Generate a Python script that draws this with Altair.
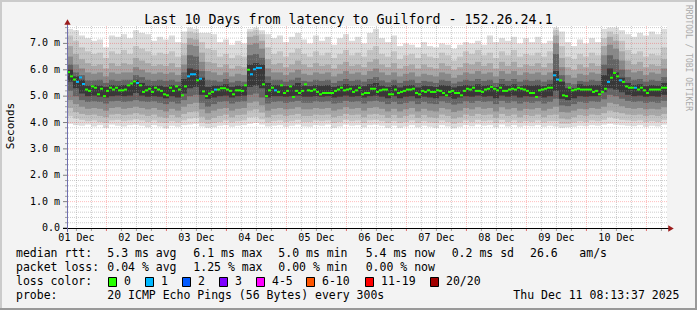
import altair as alt
import pandas as pd

FONT = "DejaVu Sans Mono"

# ---------------- data ----------------
TITLE = "Last 10 Days from latency to Guilford - 152.26.24.1"
START_CLOCK_H = 8 + 13 / 60 + 37 / 3600      # graph starts 01 Dec 08:13:37
SPAN_H = 240.0                                # 10 days
DAY_LABELS = ["01 Dec", "02 Dec", "03 Dec", "04 Dec", "05 Dec",
              "06 Dec", "07 Dec", "08 Dec", "09 Dec", "10 Dec"]
Y_TICKS = [0, 1, 2, 3, 4, 5, 6, 7]
Y_LABELS = ["0.0\u00a0\u00a0", "1.0 m", "2.0 m", "3.0 m", "4.0 m", "5.0 m", "6.0 m", "7.0 m"]

# median rtt (ms), one value per 72-minute step
MEDIAN = [
    5.91, 5.75, 5.63, 5.54, 5.71, 5.46, 5.25, 5.20, 5.37, 5.32,
    5.07, 5.28, 5.00, 5.20, 5.32, 5.25, 5.32, 5.22, 5.22, 5.25,
    5.41, 5.48, 5.56, 5.50, 5.41, 5.16, 5.22, 5.28, 5.16, 5.32,
    5.25, 5.20, 5.07, 5.03, 5.32, 5.20, 5.37, 5.25, 5.03, 5.37,
    5.75, 5.83, 5.83, 5.60, 5.66, 5.18, 5.00, 5.10, 5.16, 5.25,
    5.25, 5.30, 5.30, 5.25, 5.20, 5.07, 5.22, 5.22, 5.20, 5.41,
    6.00, 5.83, 6.02, 6.07, 6.07, 5.45, 5.00, 5.22, 5.32, 5.22,
    5.16, 5.41, 5.12, 5.20, 5.37, 4.97, 5.20, 5.12, 5.20, 5.45,
    5.22, 5.20, 5.25, 5.16, 5.07, 5.12, 5.12, 5.12, 5.12, 5.20,
    5.25, 5.32, 5.22, 5.25, 5.28, 5.16, 5.22, 5.32, 5.07, 5.12,
    5.12, 5.28, 5.28, 5.16, 5.22, 5.25, 5.25, 5.07, 5.07, 5.25,
    5.12, 5.16, 5.20, 5.25, 5.25, 5.28, 5.12, 5.07, 5.20, 5.16,
    5.22, 5.16, 5.16, 5.22, 5.20, 5.12, 5.03, 5.16, 5.20, 5.12,
    5.12, 5.03, 5.20, 5.28, 5.25, 5.32, 5.20, 5.20, 5.16, 5.25,
    5.28, 5.35, 5.28, 5.22, 5.32, 5.20, 5.20, 5.25, 5.28, 5.25,
    5.32, 5.28, 5.25, 5.20, 5.12, 5.12, 4.97, 5.22, 5.25, 5.28,
    5.32, 5.32, 5.79, 5.63, 5.60, 5.03, 5.00, 5.32, 5.22, 5.25,
    5.28, 5.25, 5.25, 5.25, 5.25, 5.16, 5.20, 5.07, 5.16, 5.28,
    5.54, 5.70, 5.88, 5.75, 5.60, 5.54, 5.37, 5.32, 5.32, 5.32,
    5.25, 5.32, 5.22, 5.12, 5.25, 5.25, 5.25, 5.25, 5.32, 5.32,
]
# lost pings per step (0 or 1 of 20)
LOSS = [
    0, 0, 0, 1, 1, 1, 0, 0, 0, 0, 0, 0, 0, 0, 0, 0, 0, 0, 0, 0,
    0, 0, 0, 1, 0, 0, 0, 0, 0, 0, 0, 0, 0, 0, 0, 0, 0, 0, 0, 0,
    1, 1, 1, 0, 1, 0, 0, 0, 0, 1, 0, 0, 0, 0, 0, 0, 0, 0, 0, 0,
    0, 1, 1, 1, 1, 0, 0, 0, 0, 1, 0, 0, 0, 0, 0, 0, 0, 0, 0, 0,
    0, 0, 0, 0, 0, 0, 0, 0, 0, 0, 0, 0, 0, 0, 0, 0, 0, 0, 0, 0,
    0, 0, 0, 0, 0, 0, 0, 0, 0, 0, 0, 0, 0, 0, 0, 0, 0, 0, 0, 0,
    0, 0, 0, 0, 0, 0, 0, 0, 0, 0, 0, 0, 0, 0, 0, 0, 0, 0, 0, 0,
    0, 0, 0, 0, 0, 0, 0, 0, 0, 0, 0, 0, 0, 0, 0, 0, 0, 0, 0, 0,
    0, 0, 1, 1, 0, 0, 0, 0, 0, 0, 0, 0, 0, 0, 0, 0, 0, 0, 0, 0,
    1, 0, 0, 0, 1, 0, 0, 0, 0, 1, 0, 0, 0, 0, 0, 0, 0, 0, 0, 0,
]

# smoke bands (ms), one value per 144-minute step; band 0 is outermost
SMOKE_T0 = [
    7.55, 7.50, 7.30, 7.20, 7.10, 7.15, 6.85, 7.30, 7.25, 7.35,
    7.20, 7.50, 7.40, 7.35, 7.10, 7.25, 7.15, 7.30, 7.05, 7.45,
    7.60, 7.55, 7.40, 7.40, 7.35, 7.05, 7.15, 6.95, 7.10, 7.00,
    7.55, 7.60, 7.50, 7.35, 7.20, 7.30, 7.05, 7.25, 7.40, 7.15,
    7.00, 7.30, 7.10, 7.25, 6.95, 7.20, 7.35, 7.10, 7.25, 7.00,
    7.40, 7.55, 7.20, 7.05, 7.30, 6.90, 7.00, 6.95, 6.85, 7.05,
    6.90, 6.85, 7.00, 6.95, 6.80, 6.95, 7.05, 7.00, 7.10, 6.95,
    7.30, 7.05, 7.20, 7.10, 7.25, 7.00, 7.20, 7.05, 7.25, 7.00,
    7.10, 7.60, 7.45, 7.05, 6.90, 7.15, 7.00, 7.20, 7.05, 7.55,
    7.60, 7.60, 7.50, 7.35, 7.25, 7.40, 7.30, 7.45, 7.35, 7.55,
]
SMOKE_B0 = [
    3.95, 3.90, 3.88, 3.92, 3.85, 3.90, 3.80, 3.92, 3.88, 3.85,
    3.90, 3.92, 3.88, 3.82, 3.90, 3.85, 3.78, 3.88, 3.84, 3.90,
    3.92, 3.95, 3.85, 3.80, 3.82, 3.88, 3.90, 3.84, 3.88, 3.90,
    3.95, 3.98, 3.92, 3.85, 3.88, 3.90, 3.84, 3.88, 3.92, 3.85,
    3.84, 3.90, 3.88, 3.92, 3.80, 3.85, 3.92, 3.88, 3.90, 3.82,
    3.90, 3.92, 3.88, 3.80, 3.88, 3.80, 3.85, 3.90, 3.82, 3.88,
    3.84, 3.80, 3.90, 3.85, 3.78, 3.84, 3.90, 3.86, 3.92, 3.88,
    3.90, 3.82, 3.92, 3.85, 3.90, 3.84, 3.88, 3.86, 3.90, 3.84,
    3.88, 3.85, 3.80, 3.82, 3.84, 3.88, 3.86, 3.90, 3.88, 3.92,
    3.95, 3.92, 3.90, 3.88, 3.86, 3.90, 3.84, 3.88, 3.85, 3.92,
]
SMOKE_T1 = [
    7.30, 7.10, 6.85, 6.70, 6.60, 6.65, 6.45, 6.70, 6.60, 6.75,
    6.60, 6.90, 6.80, 6.70, 6.55, 6.65, 6.60, 6.70, 6.50, 7.00,
    7.45, 7.40, 7.05, 6.80, 6.75, 6.50, 6.60, 6.45, 6.55, 6.50,
    7.45, 7.50, 7.35, 6.85, 6.60, 6.70, 6.50, 6.65, 6.80, 6.60,
    6.50, 6.70, 6.55, 6.65, 6.45, 6.60, 6.75, 6.55, 6.65, 6.50,
    6.75, 6.90, 6.60, 6.50, 6.70, 6.40, 6.55, 6.60, 6.45, 6.60,
    6.50, 6.45, 6.65, 6.55, 6.35, 6.50, 6.70, 6.60, 6.75, 6.55,
    6.65, 6.45, 6.70, 6.55, 6.75, 6.50, 6.60, 6.55, 6.65, 6.50,
    6.70, 7.50, 6.90, 6.50, 6.40, 6.60, 6.50, 6.65, 6.55, 7.20,
    7.45, 7.35, 7.10, 6.75, 6.60, 6.70, 6.50, 6.60, 6.55, 6.85,
]
SMOKE_B1 = [
    4.25, 4.15, 4.10, 4.05, 4.08, 4.02, 3.98, 4.08, 4.10, 4.05,
    4.08, 4.12, 4.08, 4.02, 4.08, 4.00, 3.98, 4.05, 4.00, 4.08,
    4.15, 4.18, 4.00, 3.95, 3.98, 4.02, 4.08, 4.00, 4.05, 4.08,
    4.20, 4.22, 4.12, 4.00, 4.05, 4.08, 4.02, 4.05, 4.10, 4.02,
    4.02, 4.08, 4.05, 4.08, 3.98, 4.02, 4.10, 4.05, 4.08, 3.98,
    4.08, 4.10, 4.05, 3.98, 4.05, 3.98, 4.02, 4.08, 3.98, 4.05,
    4.00, 3.98, 4.08, 4.02, 3.95, 4.00, 4.08, 4.02, 4.10, 4.05,
    4.08, 3.98, 4.10, 4.02, 4.08, 4.00, 4.05, 4.02, 4.08, 4.00,
    4.05, 4.05, 3.95, 3.95, 4.00, 4.05, 4.02, 4.08, 4.05, 4.10,
    4.20, 4.15, 4.10, 4.08, 4.05, 4.08, 4.02, 4.05, 4.02, 4.10,
]
SMOKE_T2 = [
    6.90, 6.60, 6.40, 6.25, 6.15, 6.20, 6.05, 6.25, 6.15, 6.25,
    6.20, 6.45, 6.35, 6.25, 6.15, 6.20, 6.15, 6.25, 6.10, 6.55,
    7.20, 7.15, 6.65, 6.30, 6.25, 6.10, 6.20, 6.05, 6.15, 6.10,
    7.25, 7.30, 7.10, 6.40, 6.20, 6.25, 6.10, 6.20, 6.35, 6.20,
    6.10, 6.25, 6.15, 6.20, 6.05, 6.20, 6.30, 6.15, 6.20, 6.10,
    6.30, 6.40, 6.20, 6.10, 6.25, 6.05, 6.15, 6.20, 6.05, 6.20,
    6.10, 6.05, 6.25, 6.15, 6.00, 6.10, 6.25, 6.20, 6.30, 6.15,
    6.25, 6.05, 6.30, 6.15, 6.30, 6.10, 6.20, 6.15, 6.25, 6.10,
    6.25, 7.30, 6.45, 6.10, 6.00, 6.20, 6.10, 6.25, 6.15, 6.90,
    7.25, 7.10, 6.70, 6.35, 6.20, 6.30, 6.10, 6.20, 6.15, 6.40,
]
SMOKE_B2 = [
    4.55, 4.40, 4.32, 4.28, 4.30, 4.25, 4.20, 4.30, 4.32, 4.28,
    4.30, 4.35, 4.30, 4.25, 4.30, 4.22, 4.18, 4.28, 4.20, 4.32,
    4.40, 4.42, 4.22, 4.10, 4.18, 4.25, 4.30, 4.20, 4.28, 4.30,
    4.45, 4.50, 4.38, 4.20, 4.28, 4.30, 4.25, 4.28, 4.32, 4.25,
    4.25, 4.30, 4.28, 4.30, 4.20, 4.25, 4.32, 4.28, 4.30, 4.20,
    4.30, 4.32, 4.28, 4.18, 4.28, 4.18, 4.25, 4.30, 4.18, 4.28,
    4.20, 4.18, 4.30, 4.25, 4.15, 4.20, 4.30, 4.25, 4.32, 4.28,
    4.30, 4.18, 4.32, 4.25, 4.30, 4.20, 4.28, 4.25, 4.30, 4.20,
    4.28, 4.30, 4.15, 4.12, 4.20, 4.28, 4.25, 4.30, 4.28, 4.35,
    4.45, 4.40, 4.35, 4.30, 4.28, 4.30, 4.25, 4.28, 4.25, 4.32,
]
SMOKE_T3 = [
    6.50, 6.20, 6.05, 5.90, 5.85, 5.90, 5.75, 5.90, 5.85, 5.90,
    5.90, 6.10, 6.00, 5.90, 5.85, 5.90, 5.85, 5.90, 5.80, 6.20,
    6.95, 6.90, 6.30, 5.95, 5.90, 5.80, 5.90, 5.75, 5.85, 5.80,
    6.95, 7.00, 6.80, 6.05, 5.90, 5.90, 5.80, 5.90, 6.00, 5.85,
    5.80, 5.90, 5.85, 5.90, 5.75, 5.85, 5.95, 5.85, 5.90, 5.80,
    5.95, 6.05, 5.90, 5.80, 5.90, 5.75, 5.85, 5.90, 5.75, 5.85,
    5.80, 5.75, 5.90, 5.85, 5.70, 5.80, 5.90, 5.85, 5.95, 5.85,
    5.90, 5.75, 5.95, 5.85, 5.95, 5.80, 5.90, 5.85, 5.90, 5.80,
    5.90, 7.00, 6.10, 5.80, 5.70, 5.85, 5.80, 5.90, 5.85, 6.55,
    6.95, 6.80, 6.35, 6.00, 5.90, 5.95, 5.80, 5.90, 5.85, 6.05,
]
SMOKE_B3 = [
    4.85, 4.70, 4.60, 4.52, 4.55, 4.52, 4.45, 4.55, 4.58, 4.52,
    4.55, 4.60, 4.55, 4.50, 4.55, 4.48, 4.42, 4.52, 4.45, 4.60,
    4.70, 4.75, 4.50, 4.35, 4.45, 4.52, 4.55, 4.45, 4.52, 4.55,
    4.75, 4.80, 4.65, 4.45, 4.52, 4.55, 4.50, 4.52, 4.58, 4.50,
    4.50, 4.55, 4.52, 4.55, 4.45, 4.50, 4.58, 4.52, 4.55, 4.45,
    4.55, 4.58, 4.52, 4.42, 4.52, 4.42, 4.50, 4.55, 4.42, 4.52,
    4.45, 4.42, 4.55, 4.50, 4.40, 4.45, 4.55, 4.50, 4.58, 4.52,
    4.55, 4.42, 4.58, 4.50, 4.55, 4.45, 4.52, 4.50, 4.55, 4.45,
    4.52, 4.60, 4.40, 4.38, 4.45, 4.52, 4.50, 4.55, 4.52, 4.60,
    4.75, 4.70, 4.62, 4.55, 4.52, 4.55, 4.50, 4.52, 4.50, 4.58,
]
SMOKE_T4 = [
    6.20, 5.90, 5.80, 5.60, 5.60, 5.62, 5.50, 5.62, 5.58, 5.62,
    5.62, 5.80, 5.72, 5.62, 5.58, 5.62, 5.58, 5.62, 5.55, 5.90,
    6.55, 6.50, 5.95, 5.62, 5.60, 5.55, 5.65, 5.52, 5.58, 5.55,
    6.55, 6.60, 6.45, 5.75, 5.62, 5.62, 5.55, 5.62, 5.70, 5.58,
    5.55, 5.62, 5.58, 5.62, 5.50, 5.58, 5.65, 5.58, 5.62, 5.55,
    5.65, 5.72, 5.60, 5.52, 5.62, 5.50, 5.58, 5.62, 5.50, 5.58,
    5.55, 5.50, 5.62, 5.58, 5.48, 5.55, 5.62, 5.58, 5.65, 5.58,
    5.62, 5.50, 5.65, 5.58, 5.65, 5.55, 5.62, 5.58, 5.62, 5.55,
    5.62, 6.60, 5.80, 5.50, 5.45, 5.58, 5.55, 5.62, 5.58, 6.20,
    6.55, 6.40, 6.00, 5.72, 5.62, 5.65, 5.55, 5.62, 5.58, 5.72,
]
SMOKE_B4 = [
    5.20, 5.00, 4.85, 4.78, 4.80, 4.78, 4.72, 4.80, 4.82, 4.78,
    4.80, 4.85, 4.80, 4.78, 4.80, 4.75, 4.70, 4.78, 4.72, 4.85,
    5.00, 5.05, 4.75, 4.60, 4.70, 4.78, 4.80, 4.72, 4.78, 4.80,
    5.05, 5.10, 4.95, 4.72, 4.78, 4.80, 4.75, 4.78, 4.82, 4.75,
    4.75, 4.80, 4.78, 4.80, 4.72, 4.75, 4.82, 4.78, 4.80, 4.72,
    4.80, 4.82, 4.78, 4.70, 4.78, 4.70, 4.75, 4.80, 4.70, 4.78,
    4.72, 4.70, 4.80, 4.75, 4.68, 4.72, 4.80, 4.75, 4.82, 4.78,
    4.80, 4.70, 4.82, 4.75, 4.80, 4.72, 4.78, 4.75, 4.80, 4.72,
    4.78, 4.90, 4.65, 4.62, 4.70, 4.78, 4.75, 4.80, 4.78, 4.88,
    5.05, 5.00, 4.90, 4.82, 4.78, 4.80, 4.75, 4.78, 4.75, 4.82,
]
SMOKE_T5 = [
    6.00, 5.75, 5.62, 5.40, 5.42, 5.40, 5.35, 5.42, 5.40, 5.42,
    5.45, 5.62, 5.50, 5.40, 5.40, 5.40, 5.35, 5.42, 5.38, 5.65,
    6.05, 6.00, 5.70, 5.35, 5.40, 5.40, 5.45, 5.35, 5.40, 5.38,
    6.20, 6.25, 6.20, 5.50, 5.42, 5.42, 5.38, 5.42, 5.50, 5.40,
    5.38, 5.42, 5.40, 5.42, 5.35, 5.40, 5.45, 5.40, 5.42, 5.38,
    5.45, 5.50, 5.40, 5.35, 5.42, 5.33, 5.40, 5.42, 5.33, 5.40,
    5.38, 5.35, 5.42, 5.40, 5.33, 5.38, 5.42, 5.40, 5.45, 5.40,
    5.42, 5.35, 5.45, 5.40, 5.45, 5.38, 5.42, 5.40, 5.42, 5.38,
    5.45, 5.95, 5.55, 5.30, 5.30, 5.45, 5.40, 5.42, 5.42, 5.80,
    6.05, 5.90, 5.70, 5.50, 5.42, 5.45, 5.38, 5.42, 5.40, 5.50,
]
SMOKE_B5 = [
    5.55, 5.30, 5.10, 5.00, 5.02, 4.98, 4.95, 5.00, 5.02, 5.00,
    5.02, 5.12, 5.02, 4.98, 5.00, 4.98, 4.92, 5.00, 4.95, 5.10,
    5.30, 5.35, 5.05, 4.90, 4.95, 5.00, 5.02, 4.95, 5.00, 5.02,
    5.35, 5.40, 5.30, 4.95, 5.00, 5.00, 4.98, 5.00, 5.02, 4.98,
    4.98, 5.00, 4.98, 5.00, 4.95, 4.98, 5.02, 4.98, 5.00, 4.95,
    5.00, 5.02, 4.98, 4.92, 5.00, 4.92, 4.98, 5.00, 4.92, 4.98,
    4.95, 4.92, 5.00, 4.98, 4.90, 4.95, 5.00, 4.98, 5.02, 4.98,
    5.00, 4.92, 5.02, 4.98, 5.02, 4.95, 5.00, 4.98, 5.00, 4.95,
    5.00, 5.20, 4.90, 4.85, 4.92, 5.00, 4.98, 5.00, 5.00, 5.15,
    5.30, 5.25, 5.15, 5.05, 5.00, 5.02, 4.98, 5.00, 4.98, 5.05,
]

# legend content
RTT_LABEL = "median rtt:"
RTT_STATS = ["5.3 ms avg", "6.1 ms max", "5.0 ms min", "5.4 ms now", "0.2 ms sd", "26.6", "am/s"]
LOSS_LABEL = "packet loss:"
LOSS_STATS = ["0.04 % avg", "1.25 % max", "0.00 % min", "0.00 % now"]
COLOR_LABEL = "loss color:"
LOSS_CLASSES = ["0", "1", "2", "3", "4-5", "6-10", "11-19", "20/20"]
LOSS_COLORS = ["#26ff00", "#00b8ff", "#0059ff", "#7e00ff", "#ff00ff", "#ff5500", "#ff0000", "#a10000"]
PROBE_LABEL = "probe:"
PROBE_TEXT = "20 ICMP Echo Pings (56 Bytes) every 300s"
STAMP = "Thu Dec 11 08:13:37 2025"
SIDE_TEXT = "RRDTOOL / TOBI OETIKER"

assert len(MEDIAN) == 200 and len(LOSS) == 200
for arr in (SMOKE_T0, SMOKE_B0, SMOKE_T1, SMOKE_B1, SMOKE_T2, SMOKE_B2,
            SMOKE_T3, SMOKE_B3, SMOKE_T4, SMOKE_B4, SMOKE_T5, SMOKE_B5):
    assert len(arr) == 100

# ---------------- layout / style ----------------
LEFT, TOP, W, H = 67, 26, 600, 202
YMAX = 7.66
SMOKE_GRAYS = ["#dcdcdc", "#c4c4c4", "#a8a8a8", "#888888", "#646464", "#383838"]
RTT_X = [107.3, 193.3, 278.3, 365.7, 451.7, 530.0, 579.3]
LOSS_X = [107.3, 193.3, 278.3, 365.7]
BOX_X = [108, 145, 182, 219, 256, 306, 365, 430]
ROW_Y = [254.3, 268.3, 282.3, 296.2]

xsc = alt.Scale(domain=[0, SPAN_H], nice=False, zero=False)
ysc = alt.Scale(domain=[0, YMAX], nice=False, zero=False)

one = pd.DataFrame({"k": [0]})
layers = []

# smoke
n_s = len(SMOKE_T0)
step_s = SPAN_H / n_s
bands = [(SMOKE_B0, SMOKE_T0), (SMOKE_B1, SMOKE_T1), (SMOKE_B2, SMOKE_T2),
         (SMOKE_B3, SMOKE_T3), (SMOKE_B4, SMOKE_T4), (SMOKE_B5, SMOKE_T5)]
for (lo, hi), gray in zip(bands, SMOKE_GRAYS):
    df = pd.DataFrame({"xs": [j * step_s for j in range(n_s)],
                       "xe": [(j + 1) * step_s for j in range(n_s)],
                       "lo": lo, "hi": hi})
    layers.append(alt.Chart(df).mark_rect(color=gray, strokeWidth=0).encode(
        x=alt.X("xs:Q", scale=xsc, axis=None), x2="xe:Q",
        y=alt.Y("lo:Q", scale=ysc, axis=None), y2="hi:Q"))

# grid
noon0 = 12 - START_CLOCK_H
mid0 = 24 - START_CLOCK_H
minor_x = [noon0 + 6 * k for k in range(40) if noon0 + 6 * k < SPAN_H and k % 4 != 2]
major_x = [mid0 + 24 * k for k in range(10)]
minor_y = [round(0.2 * k, 1) for k in range(1, 39) if k % 5 != 0]
major_y = Y_TICKS[1:]

layers.append(alt.Chart(pd.DataFrame({"x": minor_x})).mark_rule(
    stroke="#909090", opacity=0.45, strokeDash=[1, 1], strokeWidth=1).encode(
    x=alt.X("x:Q", scale=xsc, axis=None)))
layers.append(alt.Chart(pd.DataFrame({"y": minor_y})).mark_rule(
    stroke="#909090", opacity=0.45, strokeDash=[1, 1], strokeWidth=1).encode(
    y=alt.Y("y:Q", scale=ysc, axis=None)))
layers.append(alt.Chart(pd.DataFrame({"x": major_x})).mark_rule(
    stroke="#ff0000", opacity=0.26, strokeDash=[1, 1], strokeWidth=1).encode(
    x=alt.X("x:Q", scale=xsc, axis=None)))
layers.append(alt.Chart(pd.DataFrame({"y": major_y})).mark_rule(
    stroke="#ff0000", opacity=0.26, strokeDash=[1, 1], strokeWidth=1).encode(
    y=alt.Y("y:Q", scale=ysc, axis=None)))

# median
n_m = len(MEDIAN)
step_m = SPAN_H / n_m
med = pd.DataFrame({"xs": [i * step_m for i in range(n_m)],
                    "xe": [(i + 1) * step_m for i in range(n_m)],
                    "med": MEDIAN, "loss": LOSS})
for lv, col in ((0, LOSS_COLORS[0]), (1, LOSS_COLORS[1])):
    layers.append(alt.Chart(med).transform_filter(alt.datum.loss == lv).mark_rule(
        stroke=col, strokeWidth=2).encode(
        x=alt.X("xs:Q", scale=xsc, axis=None), x2="xe:Q",
        y=alt.Y("med:Q", scale=ysc, axis=None)))

# axis ticks
layers.append(alt.Chart(pd.DataFrame({"x": minor_x})).mark_rule(stroke="#a0a0a0").encode(
    x=alt.X("x:Q", scale=xsc, axis=None), y=alt.value(H), y2=alt.value(H + 3)))
layers.append(alt.Chart(pd.DataFrame({"x": major_x})).mark_rule(stroke="#e07070").encode(
    x=alt.X("x:Q", scale=xsc, axis=None), y=alt.value(H), y2=alt.value(H + 3)))
layers.append(alt.Chart(pd.DataFrame({"y": minor_y})).mark_rule(stroke="#a0a0a0").encode(
    y=alt.Y("y:Q", scale=ysc, axis=None), x=alt.value(-2), x2=alt.value(0)))
layers.append(alt.Chart(pd.DataFrame({"y": Y_TICKS})).mark_rule(stroke="#808080").encode(
    y=alt.Y("y:Q", scale=ysc, axis=None), x=alt.value(-4), x2=alt.value(0)))

# axis lines and arrows
layers.append(alt.Chart(one).mark_rule(stroke="#000000", strokeWidth=1).encode(
    x=alt.value(-4), x2=alt.value(W + 4), y=alt.value(H + 0.5)))
layers.append(alt.Chart(one).mark_rule(stroke="#6f6fb0", strokeWidth=1).encode(
    x=alt.value(0.5), y=alt.value(H + 4), y2=alt.value(-4)))
layers.append(alt.Chart(one).mark_point(shape="triangle-right", filled=True, color="#9b1c1c",
                                        size=40, opacity=1).encode(
    x=alt.value(W + 4), y=alt.value(H + 0.5)))
layers.append(alt.Chart(one).mark_point(shape="triangle-up", filled=True, color="#9b1c1c",
                                        size=40, opacity=1).encode(
    x=alt.value(0.5), y=alt.value(-4)))


def txt(s, ax, ay, size=11.5, align="left", angle=0, color="#000000", baseline="middle"):
    return alt.Chart(one).mark_text(text=s, align=align, baseline=baseline, font=FONT,
                                    fontSize=size, color=color, angle=angle).encode(
        x=alt.value(ax - LEFT), y=alt.value(ay - TOP))


# axis labels
layers.append(alt.Chart(pd.DataFrame({"y": Y_TICKS, "lab": Y_LABELS})).mark_text(
    align="right", baseline="middle", font=FONT, fontSize=10, color="#000000").encode(
    y=alt.Y("y:Q", scale=ysc, axis=None), x=alt.value(60 - LEFT), text="lab:N"))
layers.append(alt.Chart(pd.DataFrame({"x": [noon0 + 24 * k for k in range(10)],
                                      "lab": DAY_LABELS})).mark_text(
    align="center", baseline="middle", font=FONT, fontSize=10, color="#000000").encode(
    x=alt.X("x:Q", scale=xsc, axis=None), y=alt.value(237.7 - TOP), text="lab:N"))

layers.append(txt(TITLE, 348.5, 24, size=13.3, align="center", baseline="alphabetic"))
layers.append(txt("Seconds", 11, 126, size=11, align="center", angle=270))
layers.append(txt(SIDE_TEXT, 687.5, 5, size=8, align="left", angle=90, color="#aaaaaa"))

# legend rows
layers.append(txt(RTT_LABEL, 16, ROW_Y[0]))
for s, x in zip(RTT_STATS, RTT_X):
    layers.append(txt(s, x, ROW_Y[0]))
layers.append(txt(LOSS_LABEL, 16, ROW_Y[1]))
for s, x in zip(LOSS_STATS, LOSS_X):
    layers.append(txt(s, x, ROW_Y[1]))
layers.append(txt(COLOR_LABEL, 16, ROW_Y[2]))
for s, c, bx in zip(LOSS_CLASSES, LOSS_COLORS, BOX_X):
    layers.append(alt.Chart(one).mark_rect(fill=c, stroke="#000000", strokeWidth=1).encode(
        x=alt.value(bx + 0.5 - LEFT), x2=alt.value(bx + 8.5 - LEFT),
        y=alt.value(277.5 - TOP), y2=alt.value(286.5 - TOP)))
    layers.append(txt(s, bx + 16, ROW_Y[2]))
layers.append(txt(PROBE_LABEL, 16, ROW_Y[3]))
layers.append(txt(PROBE_TEXT, 107.3, ROW_Y[3]))
layers.append(txt(STAMP, 513.3, ROW_Y[3]))

# frame shading
TW, TH = 697, 310
for (x0, x1, y0, y1, c) in [(0, TW, 0, 2, "#cbcbcb"), (0, 2, 0, TH, "#cbcbcb"),
                            (0, TW, TH - 2, TH, "#999999"), (TW - 2, TW, 0, TH, "#999999")]:
    layers.append(alt.Chart(one).mark_rect(fill=c, strokeWidth=0).encode(
        x=alt.value(x0 - LEFT), x2=alt.value(x1 - LEFT),
        y=alt.value(y0 - TOP), y2=alt.value(y1 - TOP)))

chart = alt.layer(*layers).properties(
    width=W, height=H,
    padding={"left": LEFT, "top": TOP, "right": 697 - LEFT - W, "bottom": 310 - TOP - H},
    autosize=alt.AutoSizeParams(type="none"),
    background="#f3f3f3",
).configure_view(fill="#ffffff", strokeWidth=0)

chart.save("out.html", embed_options={"renderer": "svg", "actions": False})
